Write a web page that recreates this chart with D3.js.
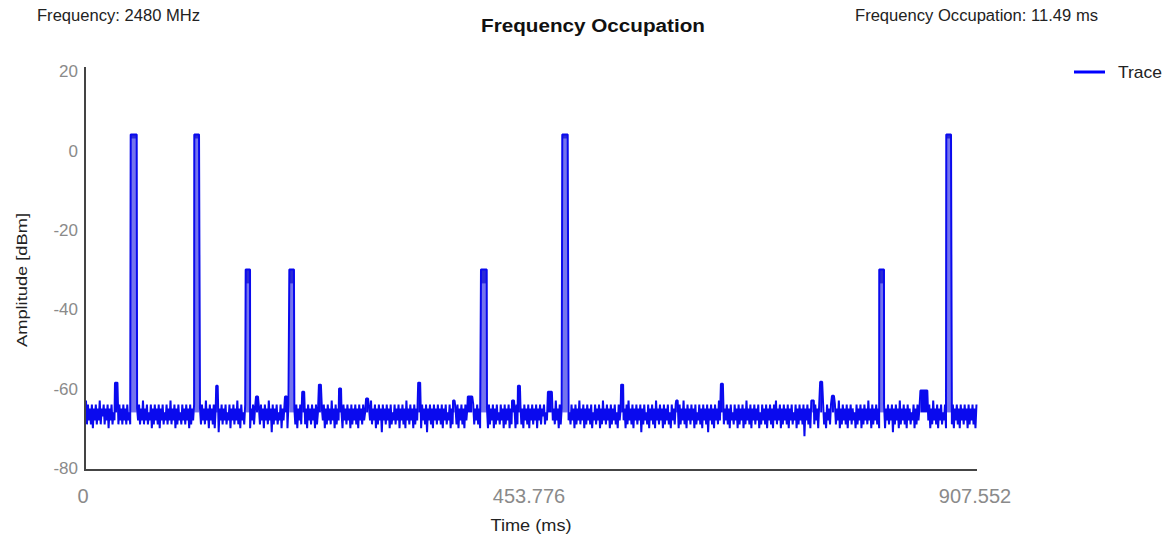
<!DOCTYPE html>
<html><head><meta charset="utf-8">
<script src="https://cdn.jsdelivr.net/npm/d3@7"></script>
<style>
body{margin:0;background:#fff}
svg{display:block}
text{font-family:"Liberation Sans",Arial,sans-serif}
</style>
</head><body>
<svg id="c" width="1171" height="542"></svg>
<script>
// ---- data ----
const chartTitle = "Frequency Occupation";
const infoLeft = "Frequency: 2480 MHz";
const infoRight = "Frequency Occupation: 11.49 ms";
const seriesName = "Trace";
const xTicks = [0, 453.776, 907.552];
const xTickLabels = ["0", "453.776", "907.552"];
const yTicks = [20, 0, -20, -40, -60, -80];
const xMax = 907.552;

// noise floor samples (dBm), one every 1 ms; first half starts at 1 ms
const noiseStart = 1, noiseStep = 1;
const noiseA = [
-63,-69,-64,-68,-65,-69,-64,-70,-65,-68,-64,-69,-65,-68,-63,-69,-65,-67,-64,-69,
-65,-68,-64,-70,-65,-68,-64,-69,-66,-68,-64,-70,-65,-69,-64,-68,-65,-69,-64,-68,
-65,-69,-64,-68,-66,-69,-64,-68,-65,-70,-64,-71,-65,-68,-64,-69,-65,-68,-63,-69,
-65,-68,-64,-69,-66,-68,-64,-70,-65,-69,-64,-68,-65,-69,-64,-70,-65,-68,-64,-69,
-66,-68,-64,-69,-65,-68,-63,-69,-65,-68,-64,-70,-65,-69,-64,-68,-66,-69,-64,-68,
-65,-69,-64,-68,-65,-70,-64,-69,-65,-68,-64,-69,-66,-68,-64,-70,-65,-69,-64,-68,
-65,-69,-63,-68,-65,-70,-64,-68,-65,-69,-64,-70,-65,-68,-64,-71,-65,-68,-64,-69,
-65,-68,-64,-69,-66,-68,-64,-70,-65,-68,-64,-69,-65,-68,-63,-69,-65,-70,-64,-68,
-66,-69,-64,-68,-65,-69,-64,-70,-65,-68,-64,-69,-65,-70,-64,-68,-65,-69,-64,-68,
-65,-70,-64,-68,-65,-69,-63,-68,-65,-71,-64,-69,-65,-68,-64,-69,-66,-68,-64,-70,
-65,-68,-64,-69,-65,-70,-64,-68,-66,-69,-64,-68,-65,-69,-64,-70,-65,-68,-64,-69,
-65,-68,-63,-69,-65,-70,-64,-68,-65,-69,-64,-68,-65,-70,-64,-69,-66,-68,-64,-69,
-65,-68,-64,-70,-65,-69,-64,-68,-65,-69,-63,-68,-65,-70,-64,-69,-65,-68,-64,-69,
-66,-70,-64,-68,-65,-69,-64,-68,-65,-70,-64,-69,-65,-68,-64,-69,-65,-70,-64,-68,
-65,-69,-64,-68,-66,-69,-64,-70,-65,-68,-63,-69,-65,-68,-64,-70,-65,-69,-64,-68,
-65,-71,-64,-68,-65,-69,-64,-68,-65,-70,-64,-69,-66,-68,-64,-69,-65,-68,-64,-70,
-65,-68,-64,-69,-65,-70,-63,-68,-65,-69,-64,-68,-65,-70,-64,-69,-65,-68,-64,-69,
-66,-70,-64,-68,-65,-69,-64,-71,-65,-68,-64,-69,-65,-70,-64,-68,-65,-69,-64,-68,
-65,-69,-64,-70,-65,-68,-64,-69,-66,-68,-64,-70,-65,-69,-63,-68,-65,-69,-64,-70,
-65,-68,-64,-69,-65,-70,-64,-68,-65,-69,-64,-68,-66,-70,-64,-69,-65,-68,-64,-69,
-65,-70,-64,-68,-65,-69,-63,-68,-65,-70,-64,-69,-65,-68,-64,-70,-65,-69,-64,-68,
-66,-69,-64,-68,-65,-70,-64,-69,-65,-68,-64,-70,-65,-69,-64,-68,-65,-70,-64,-69,
-65,-68,-64,-69,-65,-70,-64,-68,-65,-69,-64,-70,-65,-68
];
const noiseB = [
-64,-69,-65,-68,-64,-70,-65,-68,-64,-69,-65,-67,-64,-69,-66,-68,-64,-70,-65,-69,
-64,-68,-65,-69,-63,-68,-65,-70,-64,-69,-65,-68,-64,-69,-65,-71,-64,-68,-66,-69,
-64,-68,-65,-70,-64,-69,-65,-68,-63,-69,-65,-68,-64,-70,-65,-69,-64,-68,-65,-69,
-64,-70,-66,-68,-64,-69,-65,-68,-64,-70,-65,-69,-63,-68,-65,-69,-64,-68,-65,-70,
-64,-69,-65,-68,-64,-69,-66,-70,-64,-68,-65,-69,-64,-68,-65,-70,-64,-69,-63,-68,
-65,-69,-64,-70,-65,-68,-64,-69,-65,-68,-64,-71,-65,-69,-64,-68,-66,-69,-64,-70,
-65,-68,-64,-69,-65,-70,-63,-68,-65,-69,-64,-68,-65,-70,-64,-69,-65,-68,-64,-69,
-66,-70,-64,-68,-65,-69,-64,-68,-65,-70,-64,-69,-65,-68,-63,-69,-65,-70,-64,-68,
-65,-69,-64,-68,-65,-70,-64,-69,-66,-68,-64,-69,-65,-70,-64,-68,-65,-69,-64,-71,
-65,-68,-64,-69,-65,-70,-64,-68,-65,-69,-63,-68,-65,-70,-64,-69,-65,-68,-64,-69,
-65,-70,-64,-68,-66,-69,-64,-68,-65,-70,-64,-69,-65,-68,-64,-70,-65,-69,-63,-68,
-65,-69,-64,-70,-65,-68,-64,-69,-65,-68,-64,-70,-66,-69,-64,-68,-65,-69,-64,-70,
-65,-68,-64,-69,-65,-70,-64,-68,-63,-69,-65,-68,-64,-70,-65,-69,-64,-68,-65,-69,
-64,-70,-65,-68,-64,-69,-66,-68,-64,-70,-65,-69,-64,-68,-65,-69,-64,-72,-65,-68,
-64,-69,-65,-70,-63,-68,-65,-69,-64,-68,-65,-70,-64,-69,-65,-68,-64,-69,-66,-70,
-64,-68,-65,-69,-64,-70,-65,-68,-64,-69,-65,-68,-63,-70,-65,-69,-64,-68,-65,-69,
-64,-70,-65,-68,-64,-69,-65,-68,-66,-70,-64,-69,-65,-68,-64,-70,-65,-69,-64,-68,
-65,-69,-63,-68,-65,-70,-64,-69,-65,-68,-64,-69,-65,-70,-64,-68,-66,-69,-64,-70,
-65,-68,-64,-69,-65,-68,-64,-71,-65,-69,-64,-68,-65,-70,-63,-69,-65,-68,-64,-69,
-65,-70,-64,-68,-65,-69,-66,-68,-64,-70,-65,-69,-64,-68,-65,-69,-64,-70,-65,-68,
-64,-69,-65,-68,-64,-70,-65,-69,-63,-68,-65,-69,-64,-70,-65,-68,-64,-69,-66,-68,
-64,-70,-65,-69,-64,-68,-65,-69,-64,-70,-65,-68,-64,-69,-65,-70,-64,-68,-65,-69,
-64,-68,-65,-70,-64,-69,-65,-68,-64,-69,-65,-70,-64
];

// short noise peaks: [start ms, end ms, level dBm]
const bumps = [
[30.5,33,-58.5],[133.5,135,-59.3],[174,176,-62],[203.5,205.5,-62],[221,223,-60.8],
[238,240,-59],[258.5,260.5,-60],[286,288,-62.5],[339,341,-58.5],[374.5,376,-63],
[389.5,394,-62],[434.5,436.5,-63],[440.5,442.5,-59.3],[471,475,-60.8],[545.5,547.5,-59],
[601.5,603,-63],[647,649,-58.8],[740,741.5,-63],[748,750,-58.3],[760,762,-61.8],
[850,857,-60.5]
];

// occupation bursts: [start ms, end ms, level dBm, top spread dB]
const bursts = [
[46.5,52.6,4,1],[111.2,116,4,1],[163.5,167.9,-30,3.5],[207.9,212.6,-30,3.5],
[402.9,408.7,-30,3.5],[485.6,491.1,4,1],[808.1,812.9,-30,3.5],[876.3,881.1,4,1]
];

// ---- chart ----
const svg = d3.select("#c");
const x = d3.scaleLinear().domain([0, xMax]).range([85, 977]);
const y = d3.scaleLinear().domain([-80, 20]).range([468, 71]);
const lineColor = "#0a0aee";

// header texts
svg.append("text").attr("x", 37).attr("y", 21).attr("font-size", 16).attr("fill", "#222")
  .attr("textLength", 163).attr("lengthAdjust", "spacingAndGlyphs").text(infoLeft);
svg.append("text").attr("x", 593).attr("y", 32).attr("font-size", 18).attr("font-weight", "bold")
  .attr("fill", "#111").attr("text-anchor", "middle")
  .attr("textLength", 224).attr("lengthAdjust", "spacingAndGlyphs").text(chartTitle);
svg.append("text").attr("x", 855).attr("y", 21).attr("font-size", 16).attr("fill", "#222")
  .attr("textLength", 243).attr("lengthAdjust", "spacingAndGlyphs").text(infoRight);

// legend
svg.append("line").attr("x1", 1074).attr("x2", 1105).attr("y1", 72).attr("y2", 72)
  .attr("stroke", "#0000ff").attr("stroke-width", 3);
svg.append("text").attr("x", 1118).attr("y", 78).attr("font-size", 17).attr("fill", "#222")
  .attr("textLength", 44).attr("lengthAdjust", "spacingAndGlyphs").text(seriesName);

// y tick labels
svg.append("g").selectAll("text").data(yTicks).join("text")
  .attr("x", 78).attr("y", d => y(d)).attr("dy", "0.36em")
  .attr("text-anchor", "end").attr("font-size", 17).attr("fill", "#8a8a8a")
  .text(d => d);

// x tick labels
svg.append("g").selectAll("text").data(xTicks).join("text")
  .attr("x", d => x(d) - 2).attr("y", 503)
  .attr("text-anchor", "middle").attr("font-size", 20).attr("fill", "#8a8a8a")
  .text((d, i) => xTickLabels[i]);

// axis titles
svg.append("text").attr("x", 531).attr("y", 531).attr("text-anchor", "middle")
  .attr("font-size", 16).attr("fill", "#222")
  .attr("textLength", 81).attr("lengthAdjust", "spacingAndGlyphs").text("Time (ms)");
svg.append("text").attr("transform", "translate(27,280) rotate(-90)")
  .attr("text-anchor", "middle").attr("font-size", 15).attr("fill", "#222")
  .attr("textLength", 134).attr("lengthAdjust", "spacingAndGlyphs").text("Amplitude [dBm]");

// burst fills
const bg = svg.append("g");
bg.selectAll("rect.fill").data(bursts).join("rect").attr("class", "fill")
  .attr("x", d => x(d[0])).attr("width", d => x(d[1]) - x(d[0]))
  .attr("y", d => y(d[2])).attr("height", d => y(-66) - y(d[2]))
  .attr("fill", "#7474ee");
bg.selectAll("rect.cap").data(bursts).join("rect").attr("class", "cap")
  .attr("x", d => x(d[0])).attr("width", d => x(d[1]) - x(d[0]))
  .attr("y", d => y(d[2])).attr("height", d => y(d[2] - d[3]) - y(d[2]))
  .attr("fill", "#2a2ad6");
// dense bump interiors
bg.selectAll("rect.bump").data(bumps).join("rect").attr("class", "bump")
  .attr("x", d => x(d[0])).attr("width", d => x(d[1]) - x(d[0]))
  .attr("y", d => y(d[2])).attr("height", d => y(-66) - y(d[2]))
  .attr("fill", lineColor);

// trace points
const inside = t => bumps.some(b => t >= b[0] && t <= b[1]) || bursts.some(b => t >= b[0] && t <= b[1]);
const noise = noiseA.concat(noiseB);
const pts = [];
noise.forEach((v, i) => { const t = noiseStart + i * noiseStep; if (!inside(t)) pts.push([t, v]); });
bumps.forEach(b => { pts.push([b[0], b[2]], [b[1], b[2]]); });
bursts.forEach(b => { pts.push([b[0], b[2]], [b[1], b[2]]); });
pts.sort((a, b) => a[0] - b[0]);

svg.append("path").datum(pts)
  .attr("d", d3.line().x(d => x(d[0])).y(d => y(d[1])))
  .attr("fill", "none").attr("stroke", lineColor).attr("stroke-width", 2)
  .attr("stroke-linejoin", "bevel");

// axes lines
svg.append("line").attr("x1", 85).attr("x2", 85).attr("y1", 67).attr("y2", 470)
  .attr("stroke", "#444").attr("stroke-width", 2);
svg.append("line").attr("x1", 84).attr("x2", 977).attr("y1", 470).attr("y2", 470)
  .attr("stroke", "#444").attr("stroke-width", 2);
</script>
</body></html>
